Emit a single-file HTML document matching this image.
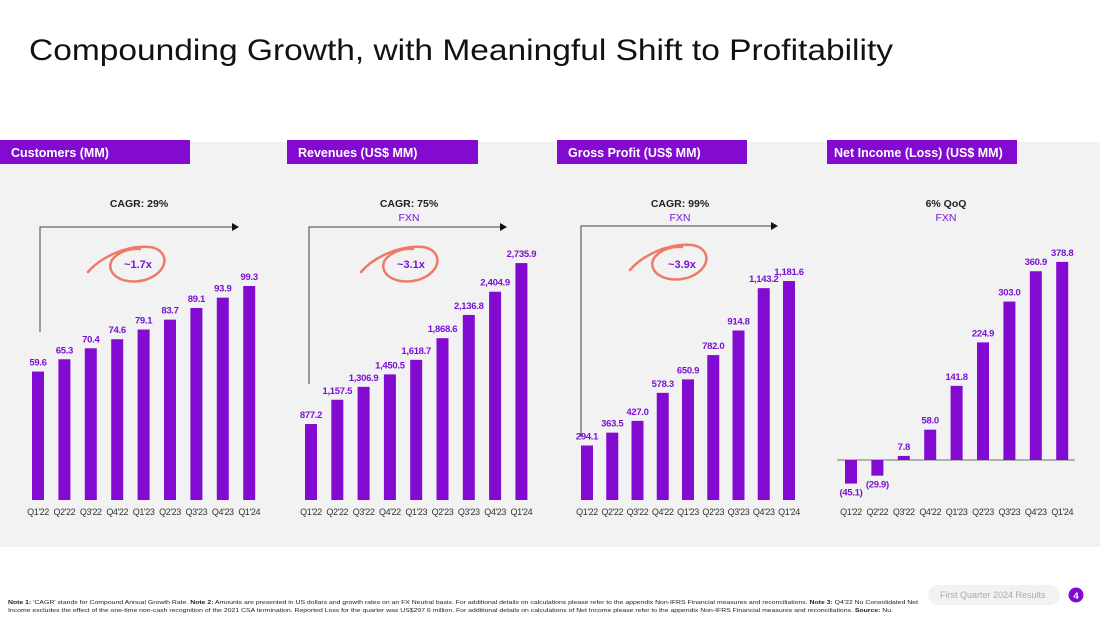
<!DOCTYPE html>
<html><head><meta charset="utf-8"><style>
body{margin:0;width:1100px;height:619px;overflow:hidden;background:#fff;font-family:"Liberation Sans",sans-serif}
svg{display:block}
.v{fill:#7a12d4;font-size:9.5px;font-weight:bold;text-anchor:middle;letter-spacing:-0.3px}
.x{fill:#333;font-size:9px;text-anchor:middle;letter-spacing:-0.4px}
.h{fill:#fff;font-size:12.5px;font-weight:bold}
.c{fill:#222;font-size:10.5px;font-weight:bold;text-anchor:middle}
.f{fill:#7a12d4;font-size:10.5px;text-anchor:middle}
.m{fill:#7a12d4;font-size:11px;font-weight:bold;text-anchor:middle}
</style></head><body>
<svg id="s" width="1100" height="619" xmlns="http://www.w3.org/2000/svg">
<text x="29" y="60" font-size="30" fill="#111" textLength="864" lengthAdjust="spacingAndGlyphs">Compounding Growth, with Meaningful Shift to Profitability</text>
<rect x="0" y="142" width="1100" height="405" fill="#f2f2f2"/>
<rect x="0" y="140" width="190" height="24" fill="#820ad1"/>
<text class="h" x="11" y="157">Customers (MM)</text>
<rect x="287" y="140" width="191" height="24" fill="#820ad1"/>
<text class="h" x="298" y="157">Revenues (US$ MM)</text>
<rect x="557" y="140" width="190" height="24" fill="#820ad1"/>
<text class="h" x="568" y="157">Gross Profit (US$ MM)</text>
<rect x="827" y="140" width="190" height="24" fill="#820ad1"/>
<text class="h" x="834" y="157">Net Income (Loss) (US$ MM)</text>

<text class="c" x="139" y="207">CAGR: 29%</text>
<text class="c" x="409" y="207">CAGR: 75%</text>
<text class="f" x="409" y="221">FXN</text>
<text class="c" x="680" y="207">CAGR: 99%</text>
<text class="f" x="680" y="221">FXN</text>
<text class="c" x="946" y="207">6% QoQ</text>
<text class="f" x="946" y="221">FXN</text>

<g stroke="#444" fill="none" stroke-width="1"><path d="M40 332V227H232"/></g>
<path d="M232 223L239 227L232 231Z" fill="#111"/>
<g stroke="#444" fill="none" stroke-width="1"><path d="M309 384V227H500"/></g>
<path d="M500 223L507 227L500 231Z" fill="#111"/>
<g stroke="#444" fill="none" stroke-width="1"><path d="M581 437V226H771"/></g>
<path d="M771 222L778 226L771 230Z" fill="#111"/>

<g fill="none" stroke="#f07a66" stroke-width="2.5" stroke-linecap="round">
<path d="M88 272C100 258 125 245 150 247C170 250 170 272 145 280C120 286 105 272 112 260C118 252 130 248 140 249"/>
<path d="M361 272C373 258 398 245 423 247C443 250 443 272 418 280C393 286 378 272 385 260C391 252 403 248 413 249"/>
<path d="M630 270C642 256 667 243 692 245C712 248 712 270 687 278C662 284 647 270 654 258C660 250 672 246 682 247"/>
</g>
<text class="m" x="138" y="268">~1.7x</text>
<text class="m" x="411" y="268">~3.1x</text>
<text class="m" x="682" y="268">~3.9x</text>

<line x1="837" y1="460" x2="1075" y2="460" stroke="#999" stroke-width="1.5"/>
<g id="bars"></g>

<text x="8" y="604" font-size="5.6" fill="#222" textLength="910" lengthAdjust="spacingAndGlyphs"><tspan font-weight="bold">Note 1:</tspan> 'CAGR' stands for Compound Annual Growth Rate. <tspan font-weight="bold">Note 2:</tspan> Amounts are presented in US dollars and growth rates on an FX Neutral basis. For additional details on calculations please refer to the appendix Non-IFRS Financial measures and reconciliations. <tspan font-weight="bold">Note 3:</tspan> Q4'22 Nu Consolidated Net</text>
<text x="8" y="612" font-size="5.6" fill="#222" textLength="885" lengthAdjust="spacingAndGlyphs">Income excludes the effect of the one-time non-cash recognition of the 2021 CSA termination. Reported Loss for the quarter was US$297.6 million. For additional details on calculations of Net Income please refer to the appendix Non-IFRS Financial measures and reconciliations. <tspan font-weight="bold">Source:</tspan> Nu.</text>
<rect x="928" y="585" width="132" height="20" rx="10" fill="#f2f2f2"/>
<text x="940" y="598" font-size="9" fill="#aaa">First Quarter 2024 Results</text>
<circle cx="1076" cy="595" r="7.5" fill="#820ad1"/>
<text x="1076" y="599" font-size="9.5" font-weight="bold" fill="#fff" text-anchor="middle">4</text>
</svg>
<script>
const quarters=["Q1'22","Q2'22","Q3'22","Q4'22","Q1'23","Q2'23","Q3'23","Q4'23","Q1'24"];
const customers=[59.6,65.3,70.4,74.6,79.1,83.7,89.1,93.9,99.3];
const revenues=[877.2,1157.5,1306.9,1450.5,1618.7,1868.6,2136.8,2404.9,2735.9];
const grossProfit=[294.1,363.5,427.0,578.3,650.9,782.0,914.8,1143.2,1181.6];
const netIncome=[-45.1,-29.9,7.8,58.0,141.8,224.9,303.0,360.9,378.8];
const NS='http://www.w3.org/2000/svg';
const g=document.getElementById('bars');
function fmt(v){const a=Math.abs(v).toLocaleString('en-US',{minimumFractionDigits:1,maximumFractionDigits:1});return v<0?'('+a+')':a;}
function chart(name,vals,x0,step,base,scale,labelY){
  vals.forEach((v,i)=>{
    const cx=x0+i*step, h=Math.abs(v)*scale, y=v>=0?base-h:base;
    const r=document.createElementNS(NS,'rect');
    r.setAttribute('x',cx-6);r.setAttribute('y',y);r.setAttribute('width',12);r.setAttribute('height',h);r.setAttribute('fill','#820ad1');
    
    
    g.appendChild(r);
    const t=document.createElementNS(NS,'text');
    t.setAttribute('class','v');t.setAttribute('x',cx);t.setAttribute('y',v>=0?y-6:y+h+12);
    t.textContent=fmt(v);
    
    
    g.appendChild(t);
    const q=document.createElementNS(NS,'text');
    q.setAttribute('class','x');q.setAttribute('x',cx);q.setAttribute('y',labelY);
    q.textContent=quarters[i];
    
    
    g.appendChild(q);
  });
}
chart('customers',customers,38,26.4,500,2.155,515);
chart('revenues',revenues,311,26.3,500,0.0866,515);
chart('gross-profit',grossProfit,587,25.25,500,0.1853,515);
chart('net-income',netIncome,851,26.4,460,0.523,515);
</script>
</body></html>
